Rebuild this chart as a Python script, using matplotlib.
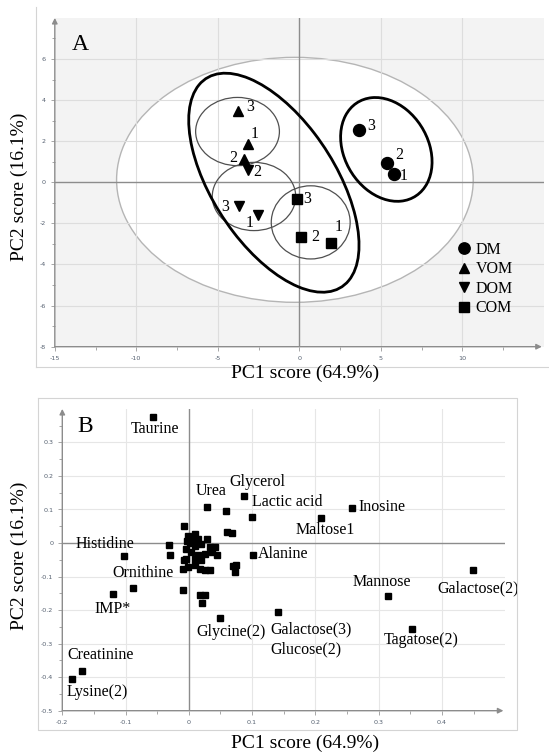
import numpy as np
import matplotlib
matplotlib.use("Agg")
import matplotlib.pyplot as plt
from matplotlib.patches import Ellipse
from matplotlib.lines import Line2D
from matplotlib.ticker import FixedLocator

# ---------------- Panel A data (PCA scores) ----------------
replicates = ["1", "2", "3"]
dm_x = [5.82, 5.36, 3.68]
dm_y = [0.42, 0.95, 2.53]
vom_x = [-3.13, -3.40, -3.78]
vom_y = [1.84, 1.15, 3.46]
dom_x = [-2.55, -3.14, -3.70]
dom_y = [-1.58, 0.60, -1.17]
com_x = [1.94, 0.10, -0.16]
com_y = [-2.93, -2.64, -0.80]
group_names = ["DM", "VOM", "DOM", "COM"]

# confidence regions (centre x, centre y, half width, half height)
hotelling = (-0.27, 0.12, 10.94, 5.96)
vom_circle = (-3.79, 2.47, 2.57, 1.66)
dom_circle = (-2.78, -0.69, 2.56, 1.66)
com_circle = (0.70, -1.95, 2.42, 1.78)
# covariance-shaped regions (cx, cy, sxx, syy, sxy)
mixed_region = (-1.56, -0.02, 27.3, 28.4, -15.9)
dm_region = (5.34, 1.60, 7.87, 6.38, -1.70)

# ---------------- Panel B data (loadings) ----------------
named = ["Taurine", "Urea", "Glycerol", "Lactic acid", "Inosine", "Maltose1",
         "Alanine", "Galactose(2)", "Mannose", "Tagatose(2)", "Galactose(3)",
         "Glycine(2)", "Histidine", "Ornithine", "IMP*", "Creatinine", "Lysine(2)"]
named_x = [-0.0565, 0.0287, 0.0864, 0.1002, 0.258, 0.209, 0.101, 0.4496, 0.315,
           0.352, 0.141, 0.0498, -0.102, -0.089, -0.120, -0.169, -0.184]
named_y = [0.375, 0.108, 0.140, 0.079, 0.105, 0.074, -0.035, -0.081, -0.158,
           -0.255, -0.205, -0.224, -0.039, -0.135, -0.151, -0.383, -0.404]
other_x = [-0.0077, -0.032, -0.030, 0.059, 0.060, 0.068, 0.069, 0.075, 0.073,
           -0.010, 0.018, 0.025, 0.021,
           -0.001, 0.009, 0.005, -0.004, 0.015, 0.020, 0.029, 0.033, 0.041,
           0.036, 0.044, 0.025, 0.015, 0.004, -0.004, -0.001, -0.009, 0.009,
           0.017, 0.025, 0.033, 0.009, 0.020, -0.008, 0.002, 0.010, -0.003]
other_y = [0.052, -0.005, -0.037, 0.095, 0.033, 0.030, -0.069, -0.066, -0.087,
           -0.140, -0.155, -0.155, -0.180,
           0.021, 0.028, 0.008, -0.017, 0.013, -0.002, 0.011, -0.012, -0.012,
           -0.027, -0.037, -0.032, -0.037, -0.027, -0.047, -0.072, -0.077, -0.066,
           -0.076, -0.079, -0.080, -0.047, -0.052, -0.052, 0.000, -0.010, 0.005]

# label layout for panel B (left edge x, centre y) in data units
label_pos = {
    "Taurine": (-0.0914, 0.341), "Urea": (0.0111, 0.154), "Glycerol": (0.0637, 0.182),
    "Lactic acid": (0.0997, 0.122), "Inosine": (0.2674, 0.107), "Maltose1": (0.1689, 0.038),
    "Alanine": (0.109, -0.032), "Histidine": (-0.1788, -0.004), "Ornithine": (-0.1207, -0.088),
    "IMP*": (-0.1495, -0.196), "Glycine(2)": (0.0122, -0.265), "Galactose(3)": (0.129, -0.258),
    "Glucose(2)": (0.129, -0.317), "Mannose": (0.2586, -0.117), "Galactose(2)": (0.3931, -0.136),
    "Tagatose(2)": (0.3073, -0.290), "Creatinine": (-0.1927, -0.333), "Lysine(2)": (-0.1938, -0.444),
}

SERIF = "Liberation Serif"
W, H = 549, 753
fig = plt.figure(figsize=(W / 100, H / 100), dpi=100)


def fx(px):
    return px / W


def fy(py):
    return 1 - py / H


# frames
fig.add_artist(Line2D([fx(36), fx(36)], [fy(7), fy(367)], color="#d4d4d4", lw=0.8))
fig.add_artist(Line2D([fx(36), fx(549)], [fy(367), fy(367)], color="#d4d4d4", lw=0.8))
fig.add_artist(Line2D([fx(37.5), fx(516.5), fx(516.5), fx(37.5), fx(37.5)],
                      [fy(398.3), fy(398.3), fy(730), fy(730), fy(398.3)], color="#d4d4d4", lw=0.8))

axA = fig.add_axes([fx(54.8), fy(346.7), (543.8 - 54.8) / W, (346.7 - 17.9) / H])
axB = fig.add_axes([fx(62.3), fy(710.7), (505.2 - 62.3) / W, (710.7 - 408.9) / H])


def style_axes(ax, bg):
    ax.set_facecolor(bg)
    for s in ax.spines.values():
        s.set_visible(False)
    ax.tick_params(which="both", direction="out", color="#999999", labelsize=4.6,
                   labelcolor="#556070", width=0.6)
    ax.tick_params(which="major", length=3)
    ax.tick_params(which="minor", length=2)
    ax.annotate("", xy=(0, 1.0), xytext=(0, 0), xycoords="axes fraction",
                arrowprops=dict(arrowstyle="-|>", color="#8c8c8c", lw=1.0,
                                mutation_scale=8, shrinkA=0, shrinkB=0), zorder=6)
    ax.annotate("", xy=(0.996, 0), xytext=(0, 0), xycoords="axes fraction",
                arrowprops=dict(arrowstyle="-|>", color="#8c8c8c", lw=1.0,
                                mutation_scale=8, shrinkA=0, shrinkB=0), zorder=6)


def cov_ellipse(ax, reg, **kw):
    cx, cy, sxx, syy, sxy = reg
    vals, vecs = np.linalg.eigh(np.array([[sxx, sxy], [sxy, syy]]))
    ang = np.degrees(np.arctan2(vecs[1, 1], vecs[0, 1]))
    e = Ellipse((cx, cy), 2 * np.sqrt(vals[1]), 2 * np.sqrt(vals[0]), angle=ang, **kw)
    ax.add_patch(e)


# ---------------- Panel A ----------------
style_axes(axA, "#f3f3f3")
axA.set_xlim(-15, 15)
axA.set_ylim(-8, 8)
cx, cy, hw, hh = hotelling
axA.add_patch(Ellipse((cx, cy), 2 * hw, 2 * hh, facecolor="white", edgecolor="#b5b5b5", lw=1.0, zorder=1))
for gx in [-10, -5, 5, 10]:
    axA.axvline(gx, color="#dddddd", lw=0.8, zorder=2)
for gy in [-6, -4, -2, 2, 4, 6]:
    axA.axhline(gy, color="#dddddd", lw=0.8, zorder=2)
axA.axvline(0, color="#8c8c8c", lw=1.0, zorder=2)
axA.axhline(0, color="#8c8c8c", lw=1.0, zorder=2)
for c in [vom_circle, dom_circle, com_circle]:
    axA.add_patch(Ellipse((c[0], c[1]), 2 * c[2], 2 * c[3], facecolor="none",
                          edgecolor="#505050", lw=0.9, zorder=3))
cov_ellipse(axA, mixed_region, facecolor="none", edgecolor="black", lw=2.0, zorder=3)
cov_ellipse(axA, dm_region, facecolor="none", edgecolor="black", lw=2.0, zorder=3)

h_dm, = axA.plot(dm_x, dm_y, "o", color="black", ms=8.6, ls="none", zorder=5)
h_vom, = axA.plot(vom_x, vom_y, "^", color="black", ms=7.8, ls="none", zorder=5)
h_dom, = axA.plot(dom_x, dom_y, "v", color="black", ms=7.8, ls="none", zorder=5)
h_com, = axA.plot(com_x, com_y, "s", color="black", ms=7.6, ls="none", zorder=5)

# replicate number offsets in pixels (dx right, dy down)
offs = {
    "dm": [(9.1, 2.7), (12.3, -7.7), (11.6, -4.0)],
    "vom": [(6.7, -10.7), (-10.7, -1.0), (13.0, -4.3)],
    "dom": [(-8.3, 8.7), (9.3, 2.3), (-13.7, 0.7)],
    "com": [(7.7, -15.7), (14.7, 0.0), (10.0, 0.0)],
}
for key, xs, ys in [("dm", dm_x, dm_y), ("vom", vom_x, vom_y),
                    ("dom", dom_x, dom_y), ("com", com_x, com_y)]:
    for i, r in enumerate(replicates):
        dx, dy = offs[key][i]
        axA.annotate(r, (xs[i], ys[i]), xytext=(dx * 0.72, -dy * 0.72),
                     textcoords="offset points", ha="center", va="center",
                     fontsize=11.5, family=SERIF, zorder=7)

axA.xaxis.set_major_locator(FixedLocator([-15, -10, -5, 0, 5, 10]))
axA.xaxis.set_minor_locator(FixedLocator([-12.5, -7.5, -2.5, 2.5, 7.5, 12.5]))
axA.yaxis.set_major_locator(FixedLocator([-8, -6, -4, -2, 0, 2, 4, 6]))
axA.yaxis.set_minor_locator(FixedLocator([-7, -5, -3, -1, 1, 3, 5, 7]))
axA.set_xticklabels(["-15", "-10", "-5", "0", "5", "10"])
axA.set_yticklabels(["-8", "-6", "-4", "-2", "0", "2", "4", "6"])

leg = axA.legend([h_dm, h_vom, h_dom, h_com], group_names, loc="upper left",
                 bbox_to_anchor=(0.826, 0.319), frameon=False, handlelength=0.7,
                 handletextpad=0.35, labelspacing=0.22, borderpad=0, borderaxespad=0,
                 prop={"family": SERIF, "size": 11.5}, markerscale=0.95)
axA.text(0.0526, 0.9176, "A", transform=axA.transAxes, ha="center", va="center",
         fontsize=17, family=SERIF)

# ---------------- Panel B ----------------
style_axes(axB, "white")
axB.set_xlim(-0.2, 0.5)
axB.set_ylim(-0.5, 0.4)
for gx in [-0.1, 0.1, 0.2, 0.3, 0.4]:
    axB.axvline(gx, color="#e6e6e6", lw=0.8, zorder=1)
for gy in [-0.4, -0.3, -0.2, -0.1, 0.1, 0.2, 0.3]:
    axB.axhline(gy, color="#e6e6e6", lw=0.8, zorder=1)
axB.axvline(0, color="#8c8c8c", lw=1.0, zorder=2)
axB.axhline(0, color="#8c8c8c", lw=1.0, zorder=2)
axB.plot(other_x, other_y, "s", color="black", ms=5.0, ls="none", zorder=4)
axB.plot(named_x, named_y, "s", color="black", ms=5.0, ls="none", zorder=4)
for name, (lx, ly) in label_pos.items():
    axB.text(lx, ly, name, ha="left", va="center", fontsize=11.5, family=SERIF, zorder=5)

axB.xaxis.set_major_locator(FixedLocator([-0.2, -0.1, 0, 0.1, 0.2, 0.3, 0.4]))
axB.xaxis.set_minor_locator(FixedLocator([-0.15, -0.05, 0.05, 0.15, 0.25, 0.35, 0.45]))
axB.yaxis.set_major_locator(FixedLocator([-0.5, -0.4, -0.3, -0.2, -0.1, 0, 0.1, 0.2, 0.3]))
axB.yaxis.set_minor_locator(FixedLocator([-0.45, -0.35, -0.25, -0.15, -0.05, 0.05, 0.15, 0.25, 0.35]))
axB.set_xticklabels(["-0.2", "-0.1", "0", "0.1", "0.2", "0.3", "0.4"])
axB.set_yticklabels(["-0.5", "-0.4", "-0.3", "-0.2", "-0.1", "0", "0.1", "0.2", "0.3"])
axB.text(0.0513, 0.943, "B", transform=axB.transAxes, ha="center", va="center",
         fontsize=17, family=SERIF)

# axis titles
for (px, py, txt, rot) in [(305, 373, "PC1 score (64.9%)", 0), (19.3, 187, "PC2 score (16.1%)", 90),
                           (305, 743, "PC1 score (64.9%)", 0), (19.3, 556, "PC2 score (16.1%)", 90)]:
    fig.text(fx(px), fy(py), txt, rotation=rot, ha="center", va="center", fontsize=14, family=SERIF)

fig.savefig("out.png", dpi=100)
